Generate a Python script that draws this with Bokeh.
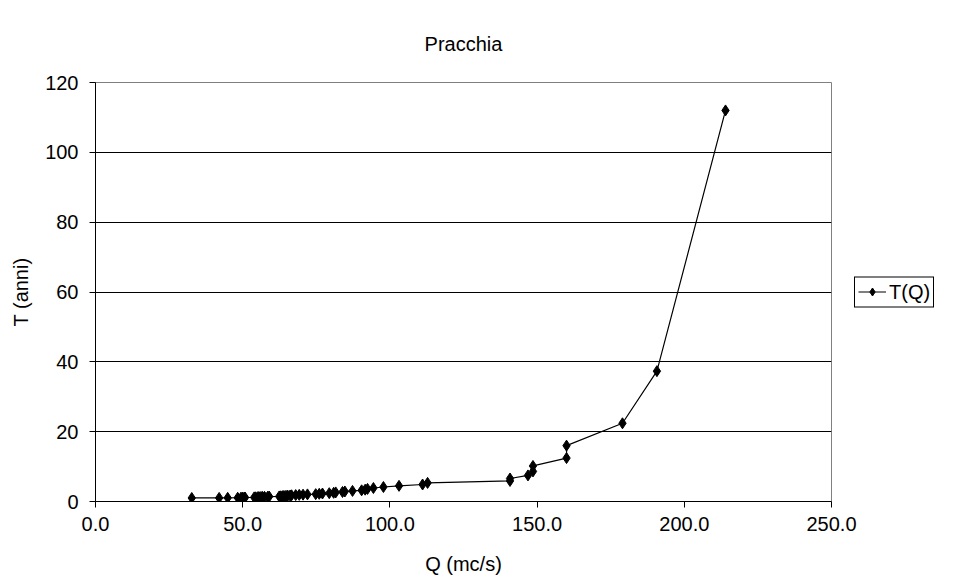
from bokeh.plotting import figure
from bokeh.models import Range1d, FixedTicker, NumeralTickFormatter, Legend, LegendItem
from bokeh.embed import file_html
from bokeh.resources import INLINE

title_text = "Pracchia"
x_label = "Q (mc/s)"
y_label = "T (anni)"
series_name = "T(Q)"

q_values = [32.7, 42.0, 44.9, 48.3, 49.4, 49.9, 50.5, 50.8, 53.9, 54.4,
            55.1, 55.5, 56.2, 56.7, 57.4, 58.5, 59.0, 62.4, 62.9, 63.5,
            64.0, 64.7, 65.3, 66.1, 66.6, 68.0, 69.2, 70.5, 72.0, 74.8,
            76.0, 77.1, 79.4, 80.9, 81.6, 83.9, 84.7, 87.3, 90.4, 91.6,
            92.4, 94.4, 97.8, 103.1, 111.1, 112.8, 140.8, 140.8, 146.9, 148.6,
            148.6, 160.0, 160.0, 179.0, 190.7, 214.0]
t_values = [1.01, 1.03, 1.05, 1.07, 1.09, 1.11, 1.13, 1.15, 1.18, 1.20,
            1.23, 1.26, 1.29, 1.32, 1.35, 1.38, 1.42, 1.45, 1.49, 1.53,
            1.58, 1.62, 1.67, 1.72, 1.78, 1.84, 1.90, 1.96, 2.04, 2.11,
            2.20, 2.29, 2.38, 2.49, 2.60, 2.73, 2.87, 3.03, 3.20, 3.39,
            3.61, 3.86, 4.15, 4.48, 4.87, 5.33, 5.89, 6.59, 7.47, 8.62,
            10.18, 12.44, 16.0, 22.4, 37.33, 112.0]
x_ticks = [0, 50, 100, 150, 200, 250]
y_ticks = [0, 20, 40, 60, 80, 100, 120]

FONT = "Liberation Sans"
FS = "20px"

p = figure(frame_width=736, frame_height=419, output_backend="svg",
           toolbar_location=None,
           x_range=Range1d(0, 250), y_range=Range1d(0, 120))
p.min_border_left = 95
p.min_border_right = 126
p.min_border_top = 82
p.min_border_bottom = 78
p.background_fill_color = "white"
p.border_fill_color = "white"
p.outline_line_color = "#808080"
p.outline_line_width = 1

p.title.text = title_text + "\n "
p.title.align = "center"
p.title.offset = 15
p.title.standoff = 12
p.title.text_font = FONT
p.title.text_font_size = FS
p.title.text_font_style = "normal"
p.title.text_color = "black"

p.xgrid.visible = False
p.ygrid.grid_line_color = "black"
p.ygrid.grid_line_width = 1
p.ygrid.ticker = FixedTicker(ticks=y_ticks)

for ax in (p.xaxis[0], p.yaxis[0]):
    ax.axis_line_color = "black"
    ax.major_tick_line_color = "black"
    ax.major_tick_out = 6
    ax.major_tick_in = 0
    ax.minor_tick_line_color = None
    ax.major_label_text_font = FONT
    ax.major_label_text_font_size = FS
    ax.major_label_text_color = "black"
    ax.axis_label_text_font = FONT
    ax.axis_label_text_font_size = FS
    ax.axis_label_text_font_style = "normal"
    ax.axis_label_text_color = "black"

p.xaxis.ticker = FixedTicker(ticks=x_ticks)
p.xaxis.formatter = NumeralTickFormatter(format="0.0")
p.xaxis.axis_label = x_label
p.xaxis.major_label_standoff = 9
p.xaxis.axis_label_standoff = 19

p.yaxis.ticker = FixedTicker(ticks=y_ticks)
p.yaxis.axis_label = y_label
p.yaxis.major_label_standoff = 11
p.yaxis.axis_label_standoff = 10

ln = p.line(q_values, t_values, line_color="black", line_width=1.2)
mk = p.scatter(q_values, t_values, marker="diamond", size=11,
               fill_color="black", line_color="black")

legend = Legend(items=[LegendItem(label=series_name, renderers=[ln, mk])],
                location="center_left", orientation="vertical")
legend.label_text_font = FONT
legend.label_text_font_size = FS
legend.label_text_color = "black"
legend.border_line_color = "black"
legend.border_line_width = 1
legend.border_line_alpha = 1.0
legend.background_fill_color = "white"
legend.padding = 3
legend.margin = 23
legend.glyph_width = 28
legend.glyph_height = 20
legend.label_standoff = 3
legend.spacing = 0
legend.label_height = 20
p.add_layout(legend, "right")

open("out.html", "w").write(file_html(p, INLINE))
